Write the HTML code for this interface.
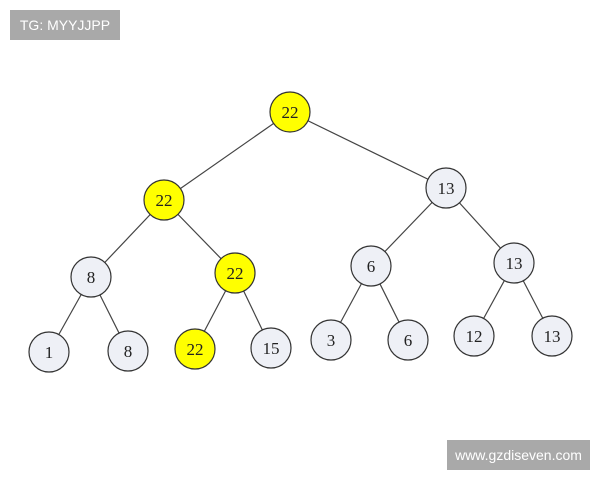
<!DOCTYPE html>
<html><head><style>body{margin:0;background:#fff;width:600px;height:480px;overflow:hidden;position:relative}
.b{position:absolute;background:#a9a9a9;color:#fff;font-family:"Liberation Sans",sans-serif;font-size:14px;display:flex;align-items:center;justify-content:center}
</style></head><body>
<div class="b" style="left:10px;top:10px;width:110px;height:30px">TG: MYYJJPP</div>
<div class="b" style="left:447px;top:440px;width:143px;height:30px">www.gzdiseven.com</div>
<svg width="600" height="480" style="position:absolute;left:0;top:0;z-index:-0" font-family="Liberation Serif" font-size="17" text-anchor="middle">
<g stroke="#444" stroke-width="1.2">
<line x1="290" y1="112" x2="164" y2="200"/><line x1="290" y1="112" x2="446" y2="188"/>
<line x1="164" y1="200" x2="91" y2="277"/><line x1="164" y1="200" x2="235" y2="273"/>
<line x1="446" y1="188" x2="371" y2="266"/><line x1="446" y1="188" x2="514" y2="263"/>
<line x1="91" y1="277" x2="49" y2="352"/><line x1="91" y1="277" x2="128" y2="351"/>
<line x1="235" y1="273" x2="195" y2="349"/><line x1="235" y1="273" x2="271" y2="348"/>
<line x1="371" y1="266" x2="331" y2="340"/><line x1="371" y1="266" x2="408" y2="340"/>
<line x1="514" y1="263" x2="474" y2="336"/><line x1="514" y1="263" x2="552" y2="336"/>
</g>
<g stroke="#333" stroke-width="1.2">
<circle cx="290" cy="112" r="20" fill="#ffff00"/><circle cx="164" cy="200" r="20" fill="#ffff00"/>
<circle cx="446" cy="188" r="20" fill="#eef0f6"/>
<circle cx="91" cy="277" r="20" fill="#eef0f6"/><circle cx="235" cy="273" r="20" fill="#ffff00"/>
<circle cx="371" cy="266" r="20" fill="#eef0f6"/><circle cx="514" cy="263" r="20" fill="#eef0f6"/>
<circle cx="49" cy="352" r="20" fill="#eef0f6"/><circle cx="128" cy="351" r="20" fill="#eef0f6"/>
<circle cx="195" cy="349" r="20" fill="#ffff00"/><circle cx="271" cy="348" r="20" fill="#eef0f6"/>
<circle cx="331" cy="340" r="20" fill="#eef0f6"/><circle cx="408" cy="340" r="20" fill="#eef0f6"/>
<circle cx="474" cy="336" r="20" fill="#eef0f6"/><circle cx="552" cy="336" r="20" fill="#eef0f6"/>
</g>
<g fill="#222">
<text x="290" y="118">22</text><text x="164" y="206">22</text><text x="446" y="194">13</text>
<text x="91" y="283">8</text><text x="235" y="279">22</text><text x="371" y="272">6</text><text x="514" y="269">13</text>
<text x="49" y="358">1</text><text x="128" y="357">8</text><text x="195" y="355">22</text><text x="271" y="354">15</text>
<text x="331" y="346">3</text><text x="408" y="346">6</text><text x="474" y="342">12</text><text x="552" y="342">13</text>
</g></svg>
</body></html>
